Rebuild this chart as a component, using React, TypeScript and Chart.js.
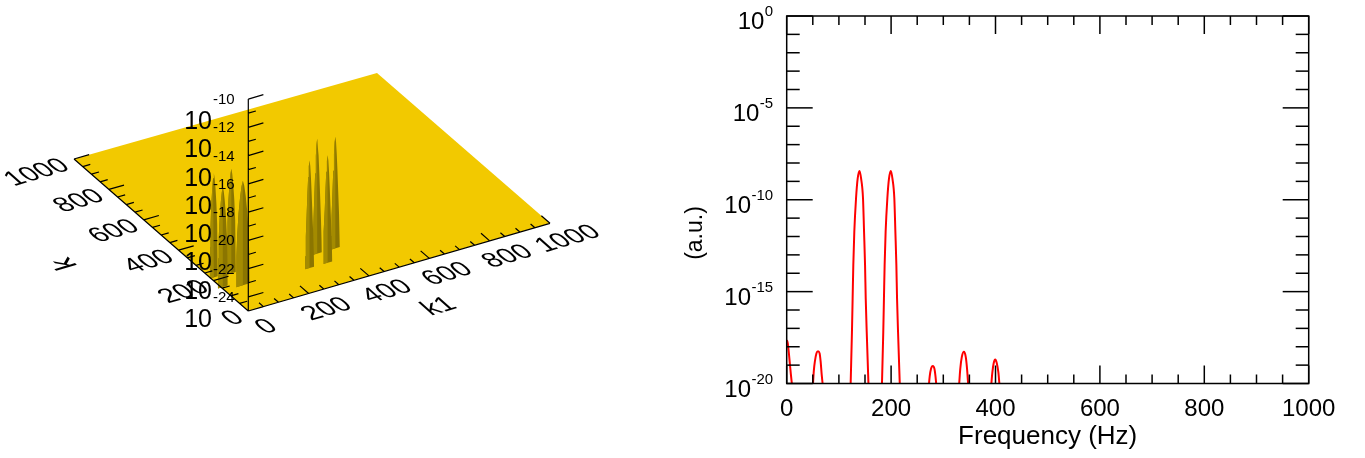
import React, { useEffect, useRef } from "react";
import { Chart, registerables } from "chart.js";

Chart.register(...registerables);

// ---------- right panel data ----------
const freqHz = [
  0, 2, 4, 6, 8, 10.2, null,
  50, 52, 54, 57, 60, 63, 65, 67, 69.5, null,
  122, 122.6, 125, 126.3, 127.6, 129.5, 132.8, 136, 139.5, 142.5, 146.2, 148.2, 150.1, 151.4, 153.3, 156.5, 157, null,
  182, 182.6, 185, 186.3, 187.6, 189.5, 192.8, 196, 199.5, 202.5, 206.2, 208.2, 210.1, 211.4, 213.3, 216.5, 217, null,
  272, 274, 276.5, 280, 283, 285, 287, null,
  330, 332.5, 335.5, 339.5, 343, 345.5, 348, null,
  391.5, 394, 396.5, 399.5, 402.5, 405.5, 408,
];
const logPower = [
  -17.63, -17.8, -18.3, -18.9, -19.5, -20.1, null,
  -20.2, -19.3, -18.8, -18.35, -18.25, -18.35, -18.8, -19.5, -20.2, null,
  -20.3, -19.93, -17.2, -15.38, -13.57, -11.75, -9.93, -8.84, -8.43, -8.84, -9.93, -11.75, -13.57, -15.38, -17.2, -19.93, -20.3, null,
  -20.3, -19.93, -17.2, -15.38, -13.57, -11.75, -9.93, -8.84, -8.43, -8.84, -9.93, -11.75, -13.57, -15.38, -17.2, -19.93, -20.3, null,
  -20.2, -19.6, -19.2, -19.05, -19.2, -19.6, -20.2, null,
  -20.2, -19.2, -18.55, -18.27, -18.55, -19.2, -20.2, null,
  -20.2, -19.4, -18.9, -18.7, -18.9, -19.4, -20.2,
];
const yMajorExp = [0, -5, -10, -15, -20];
const yMinorExp = [-1, -2, -3, -4, -6, -7, -8, -9, -11, -12, -13, -14, -16, -17, -18, -19];
const xMajorHz = [0, 200, 400, 600, 800, 1000];
const xMinorHz = [50, 100, 150, 250, 300, 350, 450, 500, 550, 650, 700, 750, 850, 900, 950];

// ---------- left panel data ----------
const peakK1 = [65, 10, 60, 5, 335, 395, 275, 335];
const peakK = [210, 215, 135, 155, 185, 185, 125, 125];
const peakTopExp = [-17.6, -17.6, -17.6, -17.9, -16.85, -17.1, -17.4, -17.4];
const peakSpan = [15, 13, 22, 16, 15, 15, 15, 15];
const peakIsFat = [1, 1, 1, 1, 0, 0, 0, 0];
const profileFrac = [0, 0.12, 0.3, 0.5, 0.7, 0.85, 0.95, 1];
const slimWidth = [1, 0.95, 0.82, 0.64, 0.46, 0.3, 0.16, 0];
const fatWidth = [1, 1, 0.95, 0.85, 0.65, 0.42, 0.2, 0];
const axisLabels = [0, 200, 400, 600, 800, 1000];
const axisMinor = [50, 100, 150, 250, 300, 350, 450, 500, 550, 650, 700, 750, 850, 900, 950];
const zMajorExp = [-10, -12, -14, -16, -18, -20, -22, -24];
const zMinorExp = [-11, -13, -15, -17, -19, -21, -23];
const Z_FLOOR = -25;

const FONT = '"Liberation Sans", Arial, sans-serif';

function project(k1: number, k: number, z: number) {
  const u = k1 / 1000;
  const v = k / 1000;
  return {
    x: 248.3 + 301.7 * u - 174.3 * v + 1.3 * u * v,
    y: 311 - 87.7 * u - 152 * v + 1.7 * u * v - (z - Z_FLOOR) * 14.13,
  };
}

function segs(list: { x: number; y: number }[][]) {
  const out: { x: number; y: number }[] = [];
  list.forEach((s) => {
    out.push(...s);
    out.push({ x: NaN, y: NaN });
  });
  return out;
}

function App() {
  const leftRef = useRef<HTMLCanvasElement | null>(null);
  const rightRef = useRef<HTMLCanvasElement | null>(null);

  useEffect(() => {
    const surface = [
      project(0, 0, Z_FLOOR),
      project(1000, 0, Z_FLOOR),
      project(1000, 1000, Z_FLOOR),
      project(0, 1000, Z_FLOOR),
    ];
    const datasets: any[] = [
      { data: surface, backgroundColor: "#F2C900", fill: "shape", borderWidth: 0, pointRadius: 0, showLine: true },
    ];
    peakK1.forEach((k1, i) => {
      const k = peakK[i];
      const top = peakTopExp[i];
      const w = peakSpan[i];
      const prof = peakIsFat[i] ? fatWidth : slimWidth;
      const h = (f: number) => Z_FLOOR + (top - Z_FLOOR) * f;
      const leftSide = profileFrac.map((f, j) => project(k1 - w * prof[j], k, h(f)));
      const rightSide = profileFrac.map((f, j) => project(k1 + w * prof[j], k, h(f)));
      const center = profileFrac.map((f) => project(k1, k, h(f)));
      const base = {
        fill: "shape",
        borderWidth: 0,
        pointRadius: 0,
        showLine: true,
      };
      datasets.push({
        ...base,
        data: [...leftSide, ...rightSide.slice().reverse()],
        backgroundColor: "#8B7500",
      });
      datasets.push({
        ...base,
        data: [...leftSide, ...center.slice().reverse()],
        backgroundColor: "#A48B00",
      });
    });
    const axisLines = segs([
      [project(0, 0, Z_FLOOR), project(1000, 0, Z_FLOOR)],
      [project(0, 0, Z_FLOOR), project(0, 1000, Z_FLOOR)],
      [project(0, 0, Z_FLOOR), project(0, 0, -10)],
      ...axisLabels.map((v) => [project(v, 0, Z_FLOOR), project(v, 50, Z_FLOOR)]),
      ...axisMinor.map((v) => [project(v, 0, Z_FLOOR), project(v, 25, Z_FLOOR)]),
      ...axisLabels.map((v) => [project(0, v, Z_FLOOR), project(50, v, Z_FLOOR)]),
      ...axisMinor.map((v) => [project(0, v, Z_FLOOR), project(25, v, Z_FLOOR)]),
      ...zMajorExp.map((z) => [project(0, 0, z), project(50, 0, z)]),
      ...zMinorExp.map((z) => [project(0, 0, z), project(25, 0, z)]),
    ]);
    datasets.push({
      data: axisLines,
      borderColor: "#000",
      borderWidth: 1.2,
      pointRadius: 0,
      showLine: true,
      fill: false,
      spanGaps: false,
    });
    datasets.forEach((d, i) => (d.order = datasets.length - i));

    const sheared = (ctx: CanvasRenderingContext2D, px: number, py: number, text: string, align: CanvasTextAlign) => {
      ctx.save();
      ctx.transform(0.958, -0.283, 0.749, 0.662, px, py);
      ctx.textAlign = align;
      ctx.textBaseline = "middle";
      ctx.font = `27px ${FONT}`;
      ctx.fillStyle = "#000";
      ctx.fillText(text, 0, 0);
      ctx.restore();
    };

    const labels3d = {
      id: "labels3d",
      afterDatasetsDraw(chart: any) {
        const ctx: CanvasRenderingContext2D = chart.ctx;
        axisLabels.forEach((v) => {
          const a = project(v, -105, Z_FLOOR);
          sheared(ctx, a.x, a.y, String(v), "center");
          const b = project(-35, v - 15, Z_FLOOR);
          sheared(ctx, b.x, b.y, String(v), "right");
        });
        const t = project(486, -254, Z_FLOOR);
        sheared(ctx, t.x, t.y, "k1", "center");
        const kp = project(-321, 495, Z_FLOOR);
        ctx.save();
        ctx.transform(-0.749 * 1.05, -0.662 * 1.05, 0.958 * 1.1, -0.283 * 1.1, kp.x, kp.y);
        ctx.textAlign = "center";
        ctx.textBaseline = "middle";
        ctx.font = `27px ${FONT}`;
        ctx.fillStyle = "#000";
        ctx.fillText("k", 0, 0);
        ctx.restore();

        ctx.fillStyle = "#000";
        ctx.textBaseline = "alphabetic";
        zMajorExp.forEach((z) => {
          const p = project(0, 0, z);
          ctx.textAlign = "right";
          ctx.font = `25px ${FONT}`;
          ctx.fillText("10", 212, p.y + 30);
          ctx.textAlign = "left";
          ctx.font = `15px ${FONT}`;
          ctx.fillText(String(z), 213, p.y + 5);
        });
      },
    };

    const left = new Chart(leftRef.current as HTMLCanvasElement, {
      type: "scatter",
      data: { datasets },
      plugins: [labels3d],
      options: {
        animation: false,
        responsive: false,
        layout: { padding: 0 },
        plugins: { legend: { display: false }, tooltip: { enabled: false } },
        scales: {
          x: { type: "linear", min: 0, max: 680, display: false },
          y: { type: "linear", min: 0, max: 458, reverse: true, display: false },
        },
      },
    } as any);

    const frame = {
      id: "frame",
      afterDraw(chart: any) {
        const ctx: CanvasRenderingContext2D = chart.ctx;
        const { left: l, right: r, top: t, bottom: b } = chart.chartArea;
        const xs = chart.scales.x;
        const ys = chart.scales.y;
        ctx.save();
        ctx.strokeStyle = "#000";
        ctx.lineWidth = 1.5;
        ctx.strokeRect(l, t, r - l, b - t);
        const line = (x1: number, y1: number, x2: number, y2: number) => {
          ctx.beginPath();
          ctx.moveTo(x1, y1);
          ctx.lineTo(x2, y2);
          ctx.stroke();
        };
        xMajorHz.forEach((v) => {
          const x = xs.getPixelForValue(v);
          line(x, b, x, b - 18);
          line(x, t, x, t + 18);
        });
        xMinorHz.forEach((v) => {
          const x = xs.getPixelForValue(v);
          line(x, b, x, b - 9);
          line(x, t, x, t + 9);
        });
        yMajorExp.forEach((e) => {
          const y = ys.getPixelForValue(10 ** e);
          line(l, y, l + 26, y);
          line(r, y, r - 26, y);
        });
        yMinorExp.forEach((e) => {
          const y = ys.getPixelForValue(10 ** e);
          line(l, y, l + 13, y);
          line(r, y, r - 13, y);
        });
        ctx.fillStyle = "#000";
        ctx.textBaseline = "alphabetic";
        yMajorExp.forEach((e) => {
          const y = ys.getPixelForValue(10 ** e);
          const exp = String(e);
          ctx.font = `15px ${FONT}`;
          const w = ctx.measureText(exp).width;
          ctx.textAlign = "left";
          ctx.fillText(exp, l - 13.5 - w, y);
          ctx.font = `24px ${FONT}`;
          ctx.textAlign = "right";
          ctx.fillText("10", l - 14 - w, y + 13);
        });
        ctx.save();
        ctx.translate(16, 233);
        ctx.rotate(-Math.PI / 2);
        ctx.textAlign = "center";
        ctx.textBaseline = "middle";
        ctx.font = `23px ${FONT}`;
        ctx.fillText("(a.u.)", 0, 0);
        ctx.restore();
        ctx.restore();
      },
    };

    const right = new Chart(rightRef.current as HTMLCanvasElement, {
      type: "line",
      data: {
        datasets: [
          {
            data: freqHz.map((f, i) => ({
              x: f,
              y: logPower[i] === null ? null : 10 ** (logPower[i] as number),
            })),
            borderColor: "#FF0000",
            borderWidth: 2,
            pointRadius: 0,
            cubicInterpolationMode: "monotone",
            spanGaps: false,
            fill: false,
          },
        ],
      },
      plugins: [frame],
      options: {
        animation: false,
        responsive: false,
        parsing: { xAxisKey: "x", yAxisKey: "y" },
        layout: { padding: { top: 16, right: 56.3, left: 0, bottom: 0 } },
        plugins: { legend: { display: false }, tooltip: { enabled: false } },
        scales: {
          x: {
            type: "linear",
            min: 0,
            max: 1000,
            grid: { display: false, drawTicks: false },
            border: { display: false },
            ticks: {
              stepSize: 200,
              autoSkip: false,
              maxRotation: 0,
              minRotation: 0,
              color: "#000",
              padding: 11,
              font: { family: "Liberation Sans", size: 24 },
              callback: (v: number) => String(v),
            },
            title: {
              display: true,
              text: "Frequency (Hz)",
              color: "#000",
              font: { family: "Liberation Sans", size: 26 },
              padding: { top: 0, bottom: 6 },
            },
            afterFit: (s: any) => {
              s.height = 74.5;
            },
          },
          y: {
            type: "logarithmic",
            min: 1e-20,
            max: 1,
            grid: { display: false, drawTicks: false },
            border: { display: false },
            ticks: { display: false },
            title: { display: false },
            afterFit: (s: any) => {
              s.width = 106.7;
            },
          },
        },
      },
    } as any);

    return () => {
      left.destroy();
      right.destroy();
    };
  }, []);

  return (
    <div style={{ position: "absolute", left: 0, top: 0, width: 1365, height: 458, overflow: "hidden", background: "#fff" }}>
      <canvas ref={leftRef} width={680} height={458} style={{ position: "absolute", left: 0, top: 0, width: 680, height: 458 }} />
      <canvas ref={rightRef} width={685} height={458} style={{ position: "absolute", left: 680, top: 0, width: 685, height: 458 }} />
    </div>
  );
}

export default App;
